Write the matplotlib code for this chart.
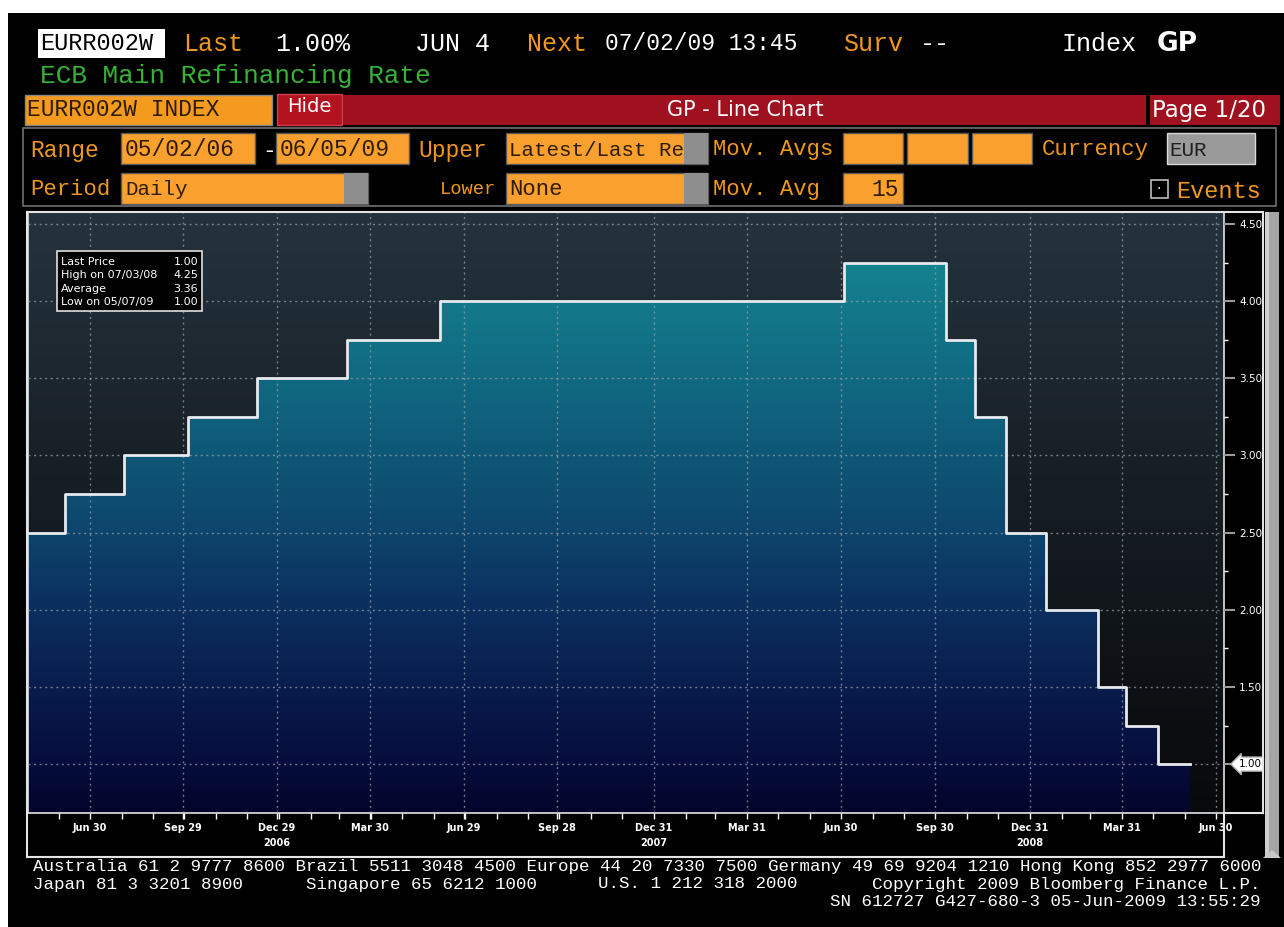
import numpy as np
import matplotlib
matplotlib.use('Agg')
import matplotlib.pyplot as plt
import matplotlib.dates as mdates
import matplotlib.transforms as mtransforms
from matplotlib.patches import Rectangle, Polygon
from matplotlib.colors import LinearSegmentedColormap

W, H = 1284, 927
MONO = ['Liberation Mono', 'DejaVu Sans Mono']
NARROW = ['Liberation Sans Narrow', 'DejaVu Sans']
plt.rcParams['font.family'] = NARROW

# ECB main refinancing rate, step changes
step_dates = ['2006-05-01', '2006-06-06', '2006-08-02', '2006-10-04', '2006-12-10',
              '2007-03-07', '2007-06-06', '2008-07-03', '2008-10-10', '2008-11-08',
              '2008-12-08', '2009-01-16', '2009-03-07', '2009-04-04', '2009-05-05',
              '2009-06-05']
rates = [2.50, 2.75, 3.00, 3.25, 3.50, 3.75, 4.00, 4.25, 3.75, 3.25,
         2.50, 2.00, 1.50, 1.25, 1.00, 1.00]

tick_dates = ['2006-06-30', '2006-09-29', '2006-12-29', '2007-03-30', '2007-06-29',
              '2007-09-28', '2007-12-31', '2008-03-31', '2008-06-30', '2008-09-30',
              '2008-12-31', '2009-03-31', '2009-06-30']
tick_labels = ['Jun 30', 'Sep 29', 'Dec 29', 'Mar 30', 'Jun 29', 'Sep 28', 'Dec 31',
               'Mar 31', 'Jun 30', 'Sep 30', 'Dec 31', 'Mar 31', 'Jun 30']
year_dates = ['2006-12-29', '2007-12-31', '2008-12-31']
year_labels = ['2006', '2007', '2008']
y_ticks = [1.00, 1.50, 2.00, 2.50, 3.00, 3.50, 4.00, 4.50]
y_minor = [1.25, 1.75, 2.25, 2.75, 3.25, 3.75, 4.25]
stat_names = ['Last Price', 'High on 07/03/08', 'Average', 'Low on 05/07/09']
stat_values = ['1.00', '4.25', '3.36', '1.00']
last_value = 1.00
x_range = ['2006-05-01', '2009-07-08']
y_range = [0.683, 4.578]

fig = plt.figure(figsize=(W/100, H/100), dpi=100, facecolor='white')

def rect(x0, y0, x1, y1, fc, ec='none', lw=0, z=1):
    fig.add_artist(Rectangle((x0/W, 1-y1/H), (x1-x0)/W, (y1-y0)/H, transform=fig.transFigure,
                             facecolor=fc, edgecolor=ec, linewidth=lw, zorder=z))

def line(xs, ys, color='#e4e4e4', lw=1.5, z=5):
    fig.add_artist(plt.Line2D([x/W for x in xs], [1-y/H for y in ys], transform=fig.transFigure,
                              color=color, lw=lw, zorder=z))

def txt(x, y, s, color, size, ha='left', family=MONO, weight='normal', z=6):
    fig.text(x/W, 1-y/H, s, color=color, fontsize=size, ha=ha, va='center',
             family=family, fontweight=weight, zorder=z)

ORANGE_TXT = '#f0981c'
BOX = '#f9a02e'
BOX_TXT = '#2e1c00'
RED = '#a01120'

# black terminal background
rect(8, 13, 1284, 927, 'black', z=-2)

# header line 1 / 2
rect(38, 29, 165, 58, 'white', z=1)
txt(40, 44, 'EURR002W', 'black', 17)
txt(183, 44, 'Last', ORANGE_TXT, 18)
txt(275, 44, '1.00%', 'white', 18)
txt(415, 44, 'JUN 4', 'white', 18)
txt(527, 44, 'Next', ORANGE_TXT, 18)
txt(605, 44, '07/02/09 13:45', 'white', 16.5)
txt(843, 44, 'Surv', ORANGE_TXT, 18)
txt(920, 44, '--', 'white', 18)
txt(1062, 44, 'Index', 'white', 18)
txt(1157, 44, 'GP', 'white', 19, family=['DejaVu Sans'], weight='bold')
txt(40, 76, 'ECB Main Refinancing Rate', '#35b335', 18.8)

# header line 3
rect(25, 95, 272, 125, '#f49a1f', ec='#888888', lw=1)
txt(27, 110, 'EURR002W INDEX', BOX_TXT, 16.5)
rect(277, 94, 342, 125, '#b3131f', ec='#d04050', lw=1)
txt(309, 106, 'Hide', 'white', 14, ha='center', family=NARROW)
rect(343, 95, 1146, 125, RED)
txt(745, 110, 'GP - Line Chart', 'white', 15, ha='center', family=NARROW)
rect(1150, 95, 1280, 125, RED)
txt(1152, 110, 'Page 1/20', 'white', 16.5, family=NARROW)

# option panel
rect(23, 128, 1276, 206, 'black', ec='#707070', lw=1.2)
def field(x0, y0, x1, y1, gray_from=None):
    rect(x0, y0, x1, y1, BOX, ec='#5a5a5a', lw=1, z=2)
    if gray_from is not None:
        rect(gray_from, y0, x1, y1, '#8e8e8e', z=3)

field(121, 133, 255, 164)
field(276, 133, 409, 164)
field(506, 133, 708, 164, gray_from=684)
field(843, 133, 903, 164)
field(907, 133, 968, 164)
field(972, 133, 1032, 164)
rect(1167, 133, 1255, 164, '#9a9a9a', ec='#d8d8d8', lw=1, z=2)
field(121, 173, 368, 204, gray_from=344)
field(506, 173, 708, 204, gray_from=684)
field(843, 173, 903, 204)
rect(1151, 180, 1168, 198, 'black', ec='#bbbbbb', lw=1.2, z=2)
txt(1159, 189, '·', 'white', 10, ha='center', family=['DejaVu Sans'])

txt(30, 150, 'Range', ORANGE_TXT, 16.5)
txt(125, 150, '05/02/06', BOX_TXT, 16.5)
txt(262, 150, '-', 'white', 16.5)
txt(280, 150, '06/05/09', BOX_TXT, 16.5)
txt(418, 150, 'Upper', ORANGE_TXT, 16.5)
txt(509, 150, 'Latest/Last Re', BOX_TXT, 15)
txt(713, 150, 'Mov. Avgs', ORANGE_TXT, 16)
txt(1042, 150, 'Currency', ORANGE_TXT, 16)
txt(1169, 150, 'EUR', '#202020', 15)
txt(30, 190, 'Period', ORANGE_TXT, 16)
txt(125, 190, 'Daily', BOX_TXT, 15)
txt(440, 190, 'Lower', ORANGE_TXT, 13.5)
txt(509, 190, 'None', BOX_TXT, 16)
txt(713, 190, 'Mov. Avg', ORANGE_TXT, 16)
txt(899, 190, '15', BOX_TXT, 16.5, ha='right')
txt(1176, 191, 'Events', ORANGE_TXT, 17)

# chart
ax = fig.add_axes([28/W, 1-813/H, 1196/W, 601/H])
xs = mdates.date2num(np.array(step_dates, dtype='datetime64[D]'))
ys = np.array(rates)
x0, x1 = mdates.date2num(np.array(x_range, dtype='datetime64[D]'))
y0, y1 = y_range

bg_cmap = LinearSegmentedColormap.from_list('bg', ['#08090b', '#151c22', '#25333e'])
ax.imshow(bg_cmap(np.linspace(0, 1, 256))[:, None, :], extent=[x0, x1, y0, y1],
          origin='lower', aspect='auto', zorder=0)

fill_cmap = LinearSegmentedColormap.from_list('fill', [
    (0.0, '#02042a'), (0.08, '#060d3c'), (0.19, '#081a4a'), (0.35, '#0b3060'),
    (0.47, '#0d456c'), (0.69, '#10657f'), (0.92, '#14828f'), (1.0, '#158a96')])
fill_img = ax.imshow(fill_cmap(np.linspace(0, 1, 256))[:, None, :], extent=[x0, x1, y0, y1],
                     origin='lower', aspect='auto', zorder=1)
poly = ax.fill_between(xs, ys, y0, step='post', facecolor='none', edgecolor='none')
fill_img.set_clip_path(poly.get_paths()[0], transform=ax.transData)

ax.step(xs, ys, where='post', color='#e6eaee', lw=2, zorder=4)

ax.set_xlim(x0, x1)
ax.set_ylim(y0, y1)
ax.set_axisbelow(False)

tx = mdates.date2num(np.array(tick_dates, dtype='datetime64[D]'))
ax.set_xticks(tx)
ax.set_xticklabels(tick_labels, fontweight='bold')
ax.xaxis.set_minor_locator(mdates.MonthLocator(bymonthday=-1))
ax.tick_params(axis='x', which='both', direction='out', color='white', length=4, width=1,
               labelcolor='white', labelsize=7, pad=3)

ax.yaxis.tick_right()
ax.set_yticks(y_ticks)
ax.set_yticklabels(['' if v == last_value else f'{v:.2f}' for v in y_ticks])
ax.set_yticks(y_minor, minor=True)
ax.tick_params(axis='y', which='major', direction='out', color='#9a9a9a', length=8, width=1.5,
               labelcolor='white', labelsize=7.5, pad=3)
ax.tick_params(axis='y', which='minor', direction='out', color='white', length=3, width=1)

ax.grid(True, which='major', color='#9aa3a8', ls=(0, (1.5, 2.5)), lw=1, alpha=0.7)
for s in ax.spines.values():
    s.set_color('#e4e4e4')
    s.set_linewidth(1.2)

trans = mtransforms.blended_transform_factory(ax.transData, ax.transAxes)
for d, lab in zip(mdates.date2num(np.array(year_dates, dtype='datetime64[D]')), year_labels):
    ax.text(d, -0.05, lab, transform=trans, ha='center', va='center', color='white',
            fontsize=7, fontweight='bold', clip_on=False)

ytrans = mtransforms.blended_transform_factory(ax.transAxes, ax.transData)
ax.text(1.012, last_value, f'{last_value:.2f}', transform=ytrans, ha='left', va='center',
        fontsize=7.5, color='black', clip_on=False, zorder=6,
        bbox=dict(boxstyle='larrow,pad=0.2', fc='white', ec='#aaaaaa', lw=1))

# stat box
rect(57, 251, 202, 311, 'black', ec='#e0e0e0', lw=1.2, z=3)
for i, (n, v) in enumerate(zip(stat_names, stat_values)):
    yy = 262 + i*13.3
    txt(61, yy, n, 'white', 8, family=NARROW, z=4)
    txt(198, yy, v, 'white', 8, ha='right', family=NARROW, z=4)

# frames around chart
line([27, 1263], [212, 212])
line([1263, 1263], [212, 813])
line([1224, 1263], [813, 813])
line([27, 27], [212, 857])
line([27, 1224], [857, 857])
line([1224, 1224], [813, 857])

# scrollbar
rect(1265, 212, 1279, 856, '#a4a4a4', z=2)
rect(1265, 212, 1269, 856, '#cfcfcf', z=3)
fig.add_artist(Polygon([[1263/W, 1-858/H], [1281/W, 1-858/H], [1272/W, 1-850/H]],
                       closed=True, transform=fig.transFigure, fc='#c8c8c8', ec='none', zorder=3))

# footer
txt(33, 866, 'Australia 61 2 9777 8600 Brazil 5511 3048 4500 Europe 44 20 7330 7500 '
             'Germany 49 69 9204 1210 Hong Kong 852 2977 6000', 'white', 12.6)
txt(33, 884, 'Japan 81 3 3201 8900', 'white', 12.6)
txt(306, 884, 'Singapore 65 6212 1000', 'white', 12.6)
txt(598, 884, 'U.S. 1 212 318 2000', 'white', 12.6)
txt(1260, 884, 'Copyright 2009 Bloomberg Finance L.P.', 'white', 12.6, ha='right')
txt(1260, 901, 'SN 612727 G427-680-3 05-Jun-2009 13:55:29', 'white', 12.6, ha='right')

fig.savefig('out.png', dpi=100, facecolor='white')
